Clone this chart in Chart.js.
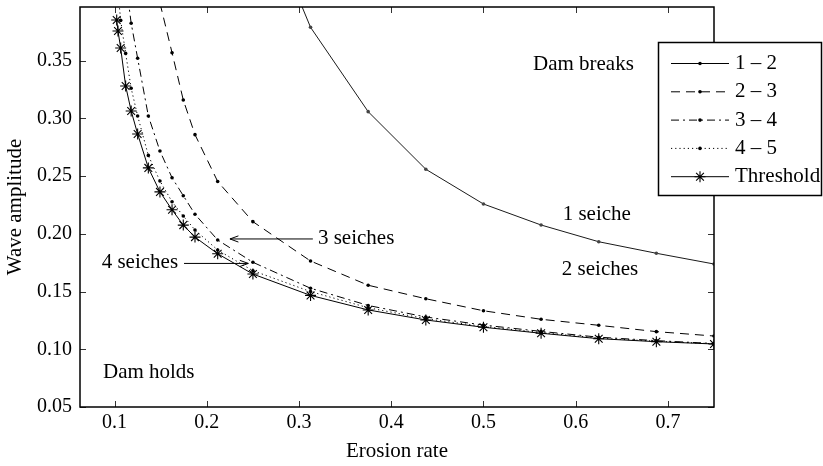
<!DOCTYPE html>
<html>
<head>
<meta charset="utf-8">
<script src="https://cdn.jsdelivr.net/npm/chart.js@4/dist/chart.umd.min.js"></script>
<style>
  html, body { margin: 0; padding: 0; background: #fff; }
  #wrap { width: 823px; height: 466px; }
</style>
</head>
<body>
<div id="wrap"><canvas id="c" width="823" height="466"></canvas></div>
<script>
// Erosion rates at which the seiche-transition boundaries were computed
const erosion = [0.1023, 0.1037, 0.1066, 0.112, 0.118, 0.125, 0.1366, 0.1492, 0.1623, 0.1745,
                 0.1872, 0.2118, 0.25, 0.3125, 0.375, 0.4375, 0.5, 0.5625, 0.625, 0.6875, 0.75];

// Wave amplitude on each boundary (null where the boundary was not computed)
const amp12 = [null, null, null, null, null, null, null, null, null, null,
               null, null, 0.50, 0.379, 0.3059, 0.256, 0.2259, 0.2077, 0.1932, 0.1832, 0.1739];
const amp23 = [null, null, null, null, null, null, null, 0.40, 0.357, 0.316,
               0.286, 0.2454, 0.2106, 0.1765, 0.1555, 0.1438, 0.1334, 0.126, 0.1208, 0.1153, 0.1115];
const amp34 = [null, null, null, 0.42, 0.3825, 0.3522, 0.3022, 0.2718, 0.2487, 0.2331,
               0.217, 0.1947, 0.1754, 0.1529, 0.138, 0.128, 0.121, 0.1155, 0.1105, 0.1075, 0.105];
const amp45 = [null, 0.41, 0.385, 0.3564, 0.3262, 0.3022, 0.268, 0.2458, 0.2279, 0.2155,
               0.2034, 0.186, 0.1681, 0.150, 0.136, 0.1265, 0.1198, 0.1145, 0.1097, 0.107, 0.1048];
const ampThreshold = [0.3854, 0.3758, 0.3611, 0.3282, 0.3065, 0.2866, 0.2572, 0.2364, 0.2209, 0.2076,
                      0.1972, 0.1828, 0.1652, 0.1467, 0.1341, 0.1254, 0.1191, 0.1139, 0.1092, 0.1066, 0.1046];

const seriesLabels = ['1 \u2013 2', '2 \u2013 3', '3 \u2013 4', '4 \u2013 5', 'Threshold'];

// Axis ticks
const xTicks = [0.1, 0.2, 0.3, 0.4, 0.5, 0.6, 0.7];
const yTicks = [0.05, 0.10, 0.15, 0.20, 0.25, 0.30, 0.35];

// Region labels and arrows, placed in data coordinates
const notes = [
  { text: 'Dam breaks', x: 0.5537, y: 0.3472 },
  { text: '1 seiche',   x: 0.5859, y: 0.2164 },
  { text: '2 seiches',  x: 0.585,  y: 0.1693 },
  { text: '3 seiches',  x: 0.3205, y: 0.1956 },
  { text: '4 seiches',  x: 0.086,  y: 0.1754 },
  { text: 'Dam holds',  x: 0.0874, y: 0.0795 }
];
const arrows = [
  { from: [0.315, 0.1956], to: [0.2251, 0.1956] },
  { from: [0.1753, 0.1744], to: [0.2450, 0.1744] }
];

const SERIF = '"Liberation Serif", "Times New Roman", serif';

function toPoints(ys) {
  const pts = [];
  ys.forEach((y, i) => { if (y !== null) pts.push({ x: erosion[i], y: y }); });
  return pts;
}

const styles = [
  { dash: [],            marker: 'dot',  color: '#1a1a1a' },
  { dash: [9, 6],        marker: 'dot',  color: '#000' },
  { dash: [8, 4, 2, 4],  marker: 'dot',  color: '#000' },
  { dash: [1.2, 3],      marker: 'dot',  color: '#000' },
  { dash: [],            marker: 'star', color: '#000' }
];
const amps = [amp12, amp23, amp34, amp45, ampThreshold];

const datasets = amps.map((ys, i) => ({
  label: seriesLabels[i],
  data: toPoints(ys),
  showLine: true,
  borderColor: styles[i].color,
  backgroundColor: styles[i].color,
  borderWidth: 1,
  borderDash: styles[i].dash,
  pointStyle: styles[i].marker === 'star' ? 'star' : 'circle',
  pointRadius: styles[i].marker === 'star' ? 5.5 : 1.8,
  pointBorderWidth: styles[i].marker === 'star' ? 1.1 : 0,
  pointBorderColor: '#000',
  pointBackgroundColor: styles[i].marker === 'star' ? '#000' : (i === 0 ? '#444' : '#000'),
  tension: 0
}));

function drawMarker(ctx, kind, x, y) {
  ctx.save();
  ctx.setLineDash([]);
  if (kind === 'star') {
    const r = 5.5;
    ctx.strokeStyle = '#000';
    ctx.lineWidth = 1.1;
    ctx.beginPath();
    for (let k = 0; k < 4; k++) {
      const a = k * Math.PI / 4;
      ctx.moveTo(x - r * Math.cos(a), y - r * Math.sin(a));
      ctx.lineTo(x + r * Math.cos(a), y + r * Math.sin(a));
    }
    ctx.stroke();
  } else {
    ctx.fillStyle = '#000';
    ctx.beginPath();
    ctx.arc(x, y, 1.8, 0, Math.PI * 2);
    ctx.fill();
  }
  ctx.restore();
}

// Box, inward ticks, notes and the legend
const decor = {
  id: 'decor',
  afterDatasetsDraw(chart) {
    const ctx = chart.ctx;
    const a = chart.chartArea;
    const xs = chart.scales.x, ys = chart.scales.y;
    ctx.save();
    // inward tick marks on all four sides
    ctx.strokeStyle = '#333';
    ctx.lineWidth = 1;
    ctx.beginPath();
    const tl = 6;
    xTicks.forEach(v => {
      const px = Math.round(xs.getPixelForValue(v)) + 0.5;
      ctx.moveTo(px, a.bottom); ctx.lineTo(px, a.bottom - tl);
      ctx.moveTo(px, a.top); ctx.lineTo(px, a.top + tl);
    });
    yTicks.forEach(v => {
      const py = Math.round(ys.getPixelForValue(v)) + 0.5;
      ctx.moveTo(a.left, py); ctx.lineTo(a.left + tl, py);
      ctx.moveTo(a.right, py); ctx.lineTo(a.right - tl, py);
    });
    ctx.stroke();
    // frame
    ctx.strokeStyle = '#000';
    ctx.lineWidth = 1.5;
    ctx.strokeRect(a.left, a.top, a.right - a.left, a.bottom - a.top);

    // region notes
    ctx.fillStyle = '#000';
    ctx.font = '21px ' + SERIF;
    ctx.textBaseline = 'middle';
    ctx.textAlign = 'left';
    notes.forEach(n => {
      ctx.fillText(n.text, xs.getPixelForValue(n.x), ys.getPixelForValue(n.y));
    });
    // arrows with open heads
    ctx.strokeStyle = '#000';
    ctx.lineWidth = 1;
    arrows.forEach(ar => {
      const x1 = xs.getPixelForValue(ar.from[0]), y1 = ys.getPixelForValue(ar.from[1]);
      const x2 = xs.getPixelForValue(ar.to[0]), y2 = ys.getPixelForValue(ar.to[1]);
      const ang = Math.atan2(y2 - y1, x2 - x1);
      const h = 9, w = 0.35;
      ctx.beginPath();
      ctx.moveTo(x1, y1); ctx.lineTo(x2, y2);
      ctx.moveTo(x2 - h * Math.cos(ang - w), y2 - h * Math.sin(ang - w));
      ctx.lineTo(x2, y2);
      ctx.lineTo(x2 - h * Math.cos(ang + w), y2 - h * Math.sin(ang + w));
      ctx.stroke();
    });
    ctx.restore();
  },
  afterDraw(chart) {
    const ctx = chart.ctx;
    const box = { left: 658.5, top: 42.5, right: 821.5, bottom: 195.5 };
    ctx.save();
    ctx.fillStyle = '#fff';
    ctx.fillRect(box.left, box.top, box.right - box.left, box.bottom - box.top);
    ctx.strokeStyle = '#000';
    ctx.lineWidth = 1.5;
    ctx.strokeRect(box.left, box.top, box.right - box.left, box.bottom - box.top);
    ctx.font = '21px ' + SERIF;
    ctx.textBaseline = 'middle';
    ctx.textAlign = 'left';
    chart.data.datasets.forEach((ds, i) => {
      const y = 63.5 + i * 28.3;
      ctx.save();
      ctx.strokeStyle = '#000';
      ctx.lineWidth = 1;
      ctx.setLineDash(styles[i].dash);
      ctx.beginPath();
      ctx.moveTo(671, y); ctx.lineTo(729, y);
      ctx.stroke();
      ctx.restore();
      drawMarker(ctx, styles[i].marker, 700, y);
      ctx.fillStyle = '#000';
      ctx.fillText(ds.label, 735, y);
    });
    ctx.restore();
  }
};

const tickFont = { family: SERIF, size: 20 };
const titleFont = { family: SERIF, size: 21 };

// keep the plot box fixed: no extra room reserved for end labels
function noEdgePadding(s) {
  s.paddingTop = 0; s.paddingBottom = 0; s.paddingLeft = 0; s.paddingRight = 0;
}

new Chart(document.getElementById('c').getContext('2d'), {
  type: 'scatter',
  data: { datasets },
  options: {
    responsive: false,
    animation: false,
    devicePixelRatio: 1,
    layout: { padding: { top: 7, right: 109, left: 0, bottom: 0 } },
    plugins: { legend: { display: false }, tooltip: { enabled: false } },
    scales: {
      x: {
        type: 'linear', min: 0.0625, max: 0.75,
        grid: { display: false, drawTicks: false },
        border: { display: false },
        afterBuildTicks: s => { s.ticks = xTicks.map(v => ({ value: v })); },
        afterFit: s => { s.height = 59; noEdgePadding(s); },
        ticks: { font: tickFont, color: '#000', padding: 4, maxRotation: 0, autoSkip: false,
                 callback: v => Number(v).toFixed(1) },
        title: { display: true, text: 'Erosion rate', font: titleFont, color: '#000',
                 padding: { top: 0, bottom: 2.4 } }
      },
      y: {
        type: 'linear', min: 0.05, max: 0.3966,
        grid: { display: false, drawTicks: false },
        border: { display: false },
        afterBuildTicks: s => { s.ticks = yTicks.map(v => ({ value: v })); },
        afterFit: s => { s.width = 80; noEdgePadding(s); },
        ticks: { font: tickFont, color: '#000', padding: 8, autoSkip: false,
                 callback: v => Number(v).toFixed(2) },
        title: { display: true, text: 'Wave amplitude', font: titleFont, color: '#000',
                 padding: { top: 2.4, bottom: 0 } }
      }
    }
  },
  plugins: [decor]
});
</script>
</body>
</html>
